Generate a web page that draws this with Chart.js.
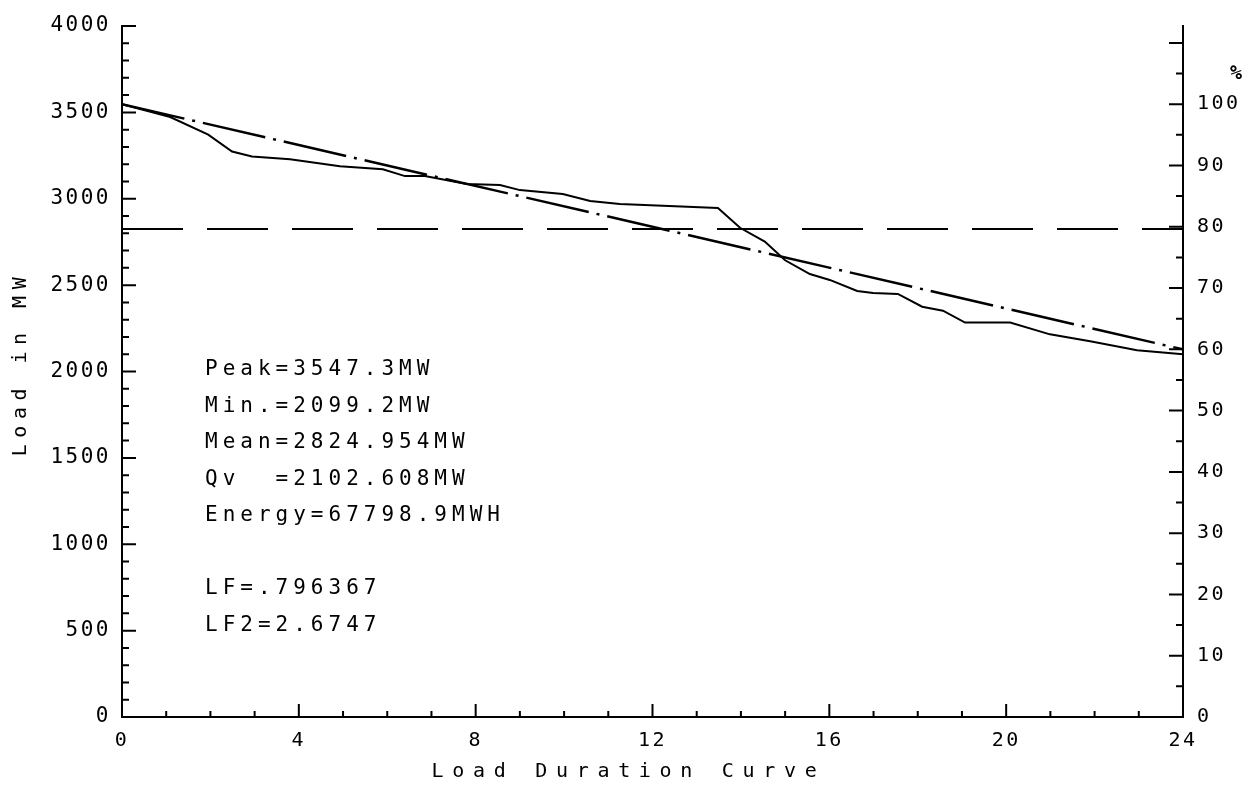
<!DOCTYPE html>
<html>
<head>
<meta charset="utf-8">
<title>Load Duration Curve</title>
<script src="https://cdn.jsdelivr.net/npm/chart.js@4.4.1/dist/chart.umd.min.js"></script>
<style>
  html, body { margin: 0; padding: 0; background: #fff; }
  #wrap { width: 1253px; height: 799px; position: relative; }
</style>
</head>
<body>
<div id="wrap"><canvas id="ldc"></canvas></div>
<script>
// load duration curve
const hours = [0, 1.09, 1.95, 2.49, 2.94, 3.8, 4.93, 5.9, 6.4, 6.85, 7.8, 8.55, 9.0, 9.97, 10.59, 11.26,
  13.48, 13.98, 14.54, 15.0, 15.56, 16.01, 16.63, 16.99, 17.55, 18.1, 18.57, 19.07, 20.09, 20.99, 21.9, 22.96, 24];
const loadMW = [3547.3, 3473, 3371, 3273, 3245, 3228, 3188, 3171, 3131, 3131, 3085, 3079, 3050, 3027, 2987, 2970,
  2947, 2832, 2752, 2644, 2564, 2530, 2466, 2454, 2449, 2375, 2352, 2283, 2283, 2215, 2175, 2123, 2099.2];

// straight fit (dash-dot) and mean (dashed)
const fitHours = [0, 24];
const fitMW = [3547.3, 2128];
const meanHours = [0, 24];
const meanMW = [2824.954, 2824.954];

const peakMW = 3547.3;
const yMax = 4000;
const xTicks = [0, 4, 8, 12, 16, 20, 24];

const infoLines = ['Peak=3547.3MW', 'Min.=2099.2MW', 'Mean=2824.954MW', 'Qv  =2102.608MW', 'Energy=67798.9MWH', '', 'LF=.796367', 'LF2=2.6747'];

const FONT = "'DejaVu Sans Mono', 'Liberation Mono', monospace";

const pts = (xs, ys) => xs.map((x, i) => ({ x: x, y: ys[i] }));

// inner ticks, titles and the text block
const plotterDecor = {
  id: 'plotterDecor',
  beforeDraw(chart) {
    chart.ctx.letterSpacing = '2.5px';
  },
  afterDraw(chart) {
    const ctx = chart.ctx;
    const { x, y, y2 } = chart.scales;
    const a = chart.chartArea;
    ctx.save();
    ctx.strokeStyle = '#000';
    ctx.lineWidth = 2;
    ctx.beginPath();
    for (let v = 0; v <= yMax; v += 100) {
      const py = y.getPixelForValue(v);
      ctx.moveTo(a.left, py);
      ctx.lineTo(a.left + (v % 500 === 0 ? 14 : 7), py);
    }
    for (let h = 0; h <= 24; h++) {
      const px = x.getPixelForValue(h);
      ctx.moveTo(px, a.bottom);
      ctx.lineTo(px, a.bottom - (h % 4 === 0 ? 13 : 6));
    }
    for (let p = 0; p <= 110; p += 5) {
      const py = y2.getPixelForValue(p);
      ctx.moveTo(a.right, py);
      ctx.lineTo(a.right - (p % 10 === 0 ? 14 : 7), py);
    }
    ctx.stroke();

    ctx.fillStyle = '#000';
    ctx.textBaseline = 'middle';

    // % sign over the right axis
    ctx.letterSpacing = '0px';
    ctx.font = 'bold 20px ' + FONT;
    ctx.textAlign = 'center';
    ctx.fillText('%', a.right + 53, y2.getPixelForValue(105));

    // text block
    ctx.letterSpacing = '5px';
    ctx.font = '21px ' + FONT;
    ctx.textAlign = 'left';
    infoLines.forEach((s, i) => {
      if (s) ctx.fillText(s, a.left + 83, 370 + i * 36.5);
    });

    // x title
    ctx.letterSpacing = '8.7px';
    ctx.font = '20px ' + FONT;
    ctx.textAlign = 'center';
    ctx.fillText('Load Duration Curve', (a.left + a.right) / 2 - 24, 772);

    // y title
    ctx.letterSpacing = '6.5px';
    ctx.translate(21, (a.top + a.bottom) / 2 - 8);
    ctx.rotate(-Math.PI / 2);
    ctx.fillText('Load in MW', 0, 0);
    ctx.restore();
  }
};

new Chart(document.getElementById('ldc'), {
  type: 'line',
  data: {
    datasets: [
      { label: 'Load', data: pts(hours, loadMW), borderColor: '#000', borderWidth: 2, pointRadius: 0, tension: 0, fill: false },
      { label: 'Linear', data: pts(fitHours, fitMW), borderColor: '#000', borderWidth: 2.5, borderDash: [64, 8, 3, 8], pointRadius: 0, fill: false },
      { label: 'Mean', data: pts(meanHours, meanMW), borderColor: '#000', borderWidth: 2, borderDash: [61, 24], pointRadius: 0, fill: false }
    ]
  },
  options: {
    responsive: true,
    maintainAspectRatio: false,
    animation: false,
    layout: { padding: { top: 18, left: 0, right: 0, bottom: 0 } },
    plugins: { legend: { display: false }, tooltip: { enabled: false } },
    scales: {
      x: {
        type: 'linear', min: 0, max: 24,
        afterFit: s => { s.height = 82; },
        afterBuildTicks: s => { s.ticks = xTicks.map(v => ({ value: v })); },
        grid: { drawOnChartArea: false, drawTicks: false },
        border: { color: '#000', width: 2 },
        ticks: { color: '#000', padding: 12, maxRotation: 0, font: { family: FONT, size: 20 }, callback: v => String(v) }
      },
      y: {
        position: 'left', min: 0, max: yMax,
        afterFit: s => { s.width = 122; },
        grid: { drawOnChartArea: false, drawTicks: false },
        border: { color: '#000', width: 2 },
        ticks: { stepSize: 500, color: '#000', padding: 11, font: { family: FONT, size: 21 }, callback: v => String(v) }
      },
      y2: {
        position: 'right', min: 0, max: yMax / peakMW * 100,
        afterFit: s => { s.width = 70; },
        grid: { drawOnChartArea: false, drawTicks: false },
        border: { color: '#000', width: 2 },
        ticks: { stepSize: 10, color: '#000', padding: 14, font: { family: FONT, size: 20 },
          callback: v => (v > 100 ? '' : String(v)) }
      }
    }
  },
  plugins: [plotterDecor]
});
</script>
</body>
</html>
